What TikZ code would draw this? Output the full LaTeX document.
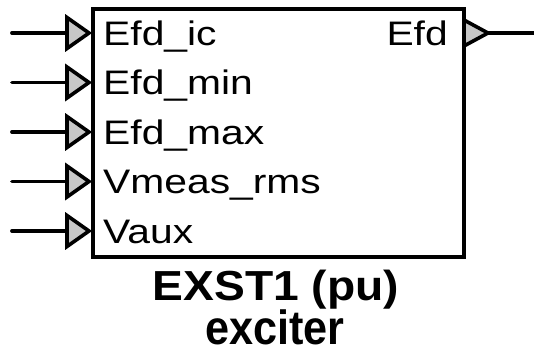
\documentclass[tikz,border=0pt]{standalone}
\usepackage{fontspec}
\setmainfont{Liberation Sans}
\begin{document}
\begin{tikzpicture}[x=1pt,y=-1pt]
\useasboundingbox (0,0) rectangle (535,351);
\tikzset{
  port/.style={draw=black, line width=3.6pt, fill=black!22, line join=miter},
  wire/.style={line width=3.8pt, line cap=round},
  lbl/.style={font=\fontsize{34}{34}\selectfont, inner sep=0pt, xscale=1.2},
  ttl/.style={font=\bfseries\fontsize{42}{42}\selectfont, inner sep=0pt},
  blockbox/.style={draw=black, line width=4pt, fill=white, inner sep=0pt}
}
\node[blockbox, minimum width=371.5pt, minimum height=248pt] (blk) at (278.25,133) {};
% inputs
\foreach \n/\y/\t in {1/33/Efd\_ic, 2/82.5/Efd\_min, 3/132/Efd\_max, 4/181.5/Vmeas\_rms, 5/231/Vaux}{
  \coordinate (s\n) at (12,\y);
  \coordinate (b\n) at (67,\y);
  \draw[port] (67,\y-15.5) -- (89,\y) -- (67,\y+15.5) -- cycle;
  \draw[wire] (s\n) -- (b\n);
  \node[lbl, anchor=base west] (l\n) at (103,\y+12) {\t};
}
% output
\coordinate (ob) at (464,33);
\coordinate (ot) at (488,33);
\coordinate (oe) at (534,33);
\draw[port] (464,20) -- (488,33) -- (464,46) -- cycle;
\draw[line width=3.2pt] (ot) -- (oe);
\node[lbl, anchor=base east] (lo) at (448,45) {Efd};
% title
\node[ttl, anchor=base, xscale=1.1] (t1) at (276,300) {EXST1 (pu)};
\node[ttl, anchor=base, font=\bfseries\fontsize{48}{48}\selectfont, xscale=0.9] (t2) at (275,344) {exciter};
\end{tikzpicture}
\end{document}
